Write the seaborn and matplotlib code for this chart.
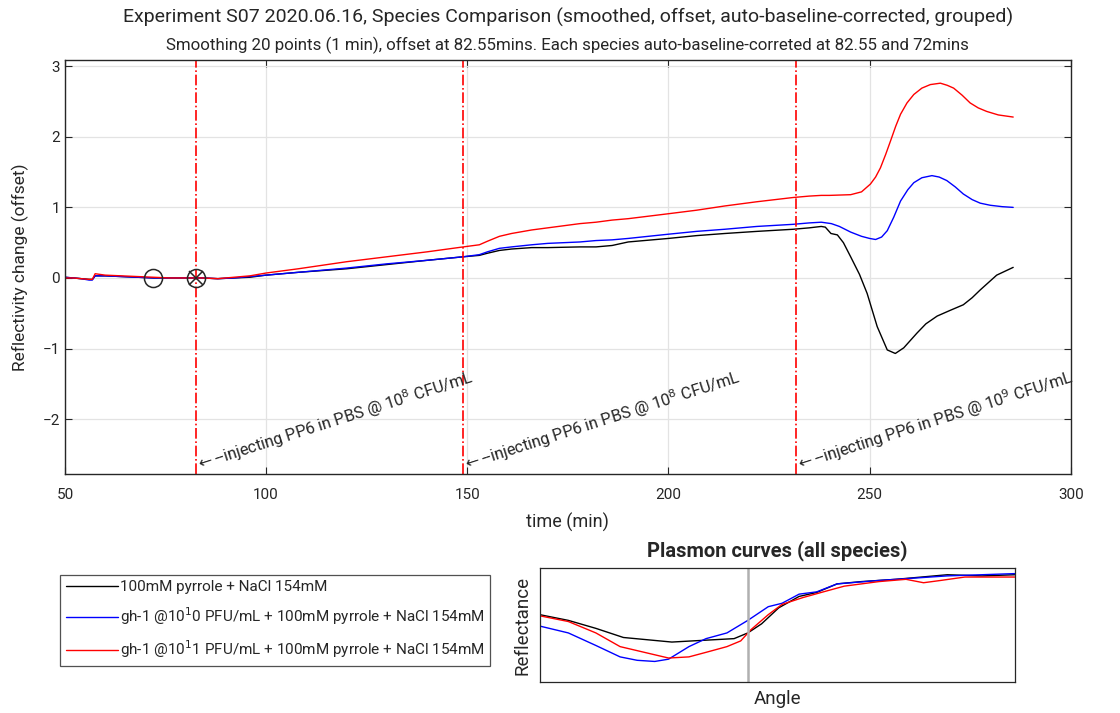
import numpy as np
import pandas as pd
import seaborn as sns
import matplotlib.pyplot as plt

# Species labels (MATLAB-style superscripts kept as they render)
species = [
    "100mM pyrrole + NaCl 154mM",
    "gh-1 @10$^1$0 PFU/mL + 100mM pyrrole + NaCl 154mM",
    "gh-1 @10$^1$1 PFU/mL + 100mM pyrrole + NaCl 154mM",
]
colors = ["#000000", "#0000ff", "#ff0000"]

# Time course (min) and reflectivity change
early_t = [50, 52, 54, 56, 56.8, 57.5, 60, 64, 68, 72, 76, 80, 84, 88, 92, 96]
early_black = [0.01, 0.0, -0.01, -0.02, -0.02, 0.03, 0.03, 0.02, 0.01, 0.0, 0.0, 0.0, 0.0, -0.01, 0.0, 0.01]
early_blue = [0.01, 0.0, -0.01, -0.03, -0.03, 0.03, 0.03, 0.02, 0.01, 0.0, 0.0, 0.0, 0.0, -0.01, 0.0, 0.02]
early_red = [0.0, 0.0, -0.01, -0.02, -0.02, 0.06, 0.04, 0.03, 0.02, 0.01, 0.0, 0.0, 0.0, -0.01, 0.01, 0.03]

mid_t = [100, 108, 120, 130, 140, 149, 153, 155, 158, 161, 166, 170, 178, 182, 186, 190,
         200, 207, 214, 222, 231, 235, 238]
mid_black = [0.04, 0.08, 0.13, 0.19, 0.25, 0.30, 0.32, 0.35, 0.39, 0.41, 0.43, 0.43, 0.44, 0.44,
             0.46, 0.51, 0.56, 0.60, 0.63, 0.66, 0.69, 0.71, 0.73]
mid_blue = [0.04, 0.08, 0.14, 0.20, 0.25, 0.30, 0.33, 0.37, 0.42, 0.44, 0.47, 0.49, 0.51, 0.53,
            0.54, 0.56, 0.62, 0.66, 0.69, 0.73, 0.76, 0.78, 0.79]
mid_red = [0.07, 0.13, 0.23, 0.30, 0.37, 0.44, 0.47, 0.52, 0.59, 0.63, 0.68, 0.71, 0.77, 0.79,
           0.82, 0.84, 0.91, 0.96, 1.02, 1.08, 1.14, 1.16, 1.17]

late_t_black = [239, 240.4, 242, 243.5, 245.3, 247.5, 249.4, 251.9, 254.4, 256.4, 258.5, 261.8,
                264, 266.8, 270, 273.3, 275.5, 277.5, 281.6, 285.7]
late_black = [0.72, 0.63, 0.61, 0.50, 0.30, 0.05, -0.22, -0.69, -1.02, -1.07, -0.99, -0.78,
              -0.65, -0.54, -0.46, -0.38, -0.28, -0.17, 0.04, 0.15]
late_t_blue = [240.5, 242.5, 245.3, 248, 250, 251.5, 253, 254.4, 256, 257.7, 259.5, 261, 263,
               265.5, 267.3, 269.2, 271.3, 273.3, 275.5, 277.5, 280, 283, 285.7]
late_blue = [0.77, 0.73, 0.65, 0.59, 0.56, 0.545, 0.58, 0.67, 0.86, 1.09, 1.25, 1.35, 1.42,
             1.45, 1.43, 1.38, 1.29, 1.19, 1.11, 1.06, 1.03, 1.01, 1.00]
late_t_red = [240, 245.3, 248, 250.2, 251.5, 252.7, 254, 255.2, 256.5, 257.7, 259.3, 261, 263,
              265.1, 267.6, 269.3, 270.9, 273, 275, 277, 279.1, 282, 285.7]
late_red = [1.17, 1.18, 1.22, 1.33, 1.43, 1.56, 1.75, 1.94, 2.15, 2.32, 2.48, 2.60, 2.69,
            2.74, 2.76, 2.73, 2.69, 2.59, 2.48, 2.41, 2.36, 2.31, 2.28]

injections = [82.55, 149.0, 231.8]
inj_labels = ["10$^8$", "10$^8$", "10$^9$"]
baseline_pts = [72, 82.55]

# Plasmon curves (normalised angle / reflectance)
pl_black_x = [0, 0.06, 0.118, 0.176, 0.227, 0.278, 0.321, 0.365, 0.409, 0.438, 0.467, 0.503,
              0.546, 0.583, 0.626, 0.677, 0.75, 0.858, 0.931, 1.0]
pl_black_y = [0.59, 0.54, 0.47, 0.39, 0.37, 0.35, 0.36, 0.37, 0.38, 0.43, 0.51, 0.65,
              0.75, 0.785, 0.86, 0.88, 0.90, 0.94, 0.93, 0.94]
pl_blue_x = [0, 0.06, 0.118, 0.169, 0.205, 0.242, 0.271, 0.314, 0.35, 0.394, 0.438, 0.481,
             0.51, 0.546, 0.583, 0.626, 0.714, 0.786, 0.858, 1.0]
pl_blue_y = [0.49, 0.43, 0.32, 0.22, 0.19, 0.18, 0.20, 0.31, 0.38, 0.43, 0.54, 0.66,
             0.69, 0.77, 0.79, 0.86, 0.89, 0.91, 0.93, 0.95]
pl_red_x = [0, 0.06, 0.118, 0.169, 0.22, 0.271, 0.314, 0.35, 0.394, 0.423, 0.445, 0.481,
            0.51, 0.554, 0.597, 0.641, 0.714, 0.771, 0.808, 0.844, 0.895, 1.0]
pl_red_y = [0.58, 0.53, 0.43, 0.31, 0.26, 0.21, 0.22, 0.26, 0.31, 0.36, 0.46, 0.59,
            0.68, 0.74, 0.79, 0.84, 0.88, 0.90, 0.87, 0.89, 0.92, 0.92]
pl_marker = 0.438


def series_frame(parts):
    rows = []
    for name, t, v in parts:
        rows.append(pd.DataFrame({"time": t, "value": v, "species": name}))
    return pd.concat(rows, ignore_index=True)


main_df = series_frame([
    (species[0], early_t + mid_t + late_t_black, early_black + mid_black + late_black),
    (species[1], early_t + mid_t + late_t_blue, early_blue + mid_blue + late_blue),
    (species[2], early_t + mid_t + late_t_red, early_red + mid_red + late_red),
])
plasmon_df = series_frame([
    (species[0], pl_black_x, pl_black_y),
    (species[1], pl_blue_x, pl_blue_y),
    (species[2], pl_red_x, pl_red_y),
])

sns.set_style("ticks")
plt.rcParams["font.family"] = ["Roboto", "DejaVu Sans"]
plt.rcParams["axes.edgecolor"] = "#262626"
plt.rcParams["xtick.color"] = "#262626"
plt.rcParams["ytick.color"] = "#262626"

fig = plt.figure(figsize=(11.2, 7.13), dpi=100)
ax = fig.add_axes([0.058, 0.335, 0.898, 0.581])
palette = dict(zip(species, colors))

sns.lineplot(data=main_df, x="time", y="value", hue="species", palette=palette,
             hue_order=species, estimator=None, sort=False, lw=1.0, ax=ax)
handles, labels = ax.get_legend_handles_labels()
ax.get_legend().remove()

for t, lab in zip(injections, inj_labels):
    ax.axvline(t, color="red", ls="-.", lw=1.2)
    ax.text(t + 0.3, -2.74, "$\\leftarrow$--injecting PP6 in PBS @ " + lab + " CFU/mL",
            rotation=17.8, rotation_mode="anchor", ha="left", va="baseline",
            fontsize=11.8, clip_on=False)

ax.plot(baseline_pts, [0, 0], "o", mfc="none", mec="#262626", ms=13, mew=1.1)
ax.plot(baseline_pts[1], 0, "x", color="#262626", ms=10, mew=1.1)

ax.set_xlim(50, 300)
ax.set_ylim(-2.78, 3.09)
ax.set_xticks([50, 100, 150, 200, 250, 300])
ax.set_yticks([-2, -1, 0, 1, 2, 3])
ax.grid(True, color="#e3e3e3", lw=0.9)
ax.set_axisbelow(True)
ax.tick_params(direction="in", top=True, right=True, length=5, labelsize=11)
ax.tick_params(axis="x", pad=10)
ax.set_xlabel("time (min)", fontsize=13, labelpad=8)
ax.set_ylabel("Reflectivity change (offset)", fontsize=12.5, labelpad=10)
for s in ax.spines.values():
    s.set_linewidth(1.0)

fig.text(0.507, 0.975, "Experiment S07 2020.06.16, Species Comparison (smoothed, offset, "
         "auto-baseline-corrected, grouped)", ha="center", va="center", fontsize=14)
fig.text(0.507, 0.937, "Smoothing 20 points (1 min), offset at 82.55mins. Each species "
         "auto-baseline-correted at 82.55 and 72mins", ha="center", va="center", fontsize=12.2)

# Legend below the main axes
leg = fig.legend(handles, labels, loc="upper left", bbox_to_anchor=(0.054, 0.194),
                 frameon=True, fancybox=False, edgecolor="#262626", fontsize=11,
                 handlelength=3.4, handletextpad=0.15, labelspacing=0.75, borderpad=0.35,
                 borderaxespad=0)
leg.get_frame().set_linewidth(0.9)

# Plasmon inset
ax2 = fig.add_axes([0.482, 0.0435, 0.424, 0.16])
sns.lineplot(data=plasmon_df, x="time", y="value", hue="species", palette=palette,
             hue_order=species, estimator=None, sort=False, lw=1.0, legend=False, ax=ax2)
ax2.axvline(pl_marker, color="#b0b0b0", lw=1.8)
ax2.set_xlim(0, 1)
ax2.set_ylim(0, 1)
ax2.set_xticks([])
ax2.set_yticks([])
ax2.set_xlabel("Angle", fontsize=13.5, labelpad=6)
ax2.set_ylabel("Reflectance", fontsize=13.5, labelpad=6)
ax2.set_title("Plasmon curves (all species)", fontsize=14.5, fontweight="bold", pad=8)
for s in ax2.spines.values():
    s.set_linewidth(0.9)

fig.savefig("out.png", dpi=100)
